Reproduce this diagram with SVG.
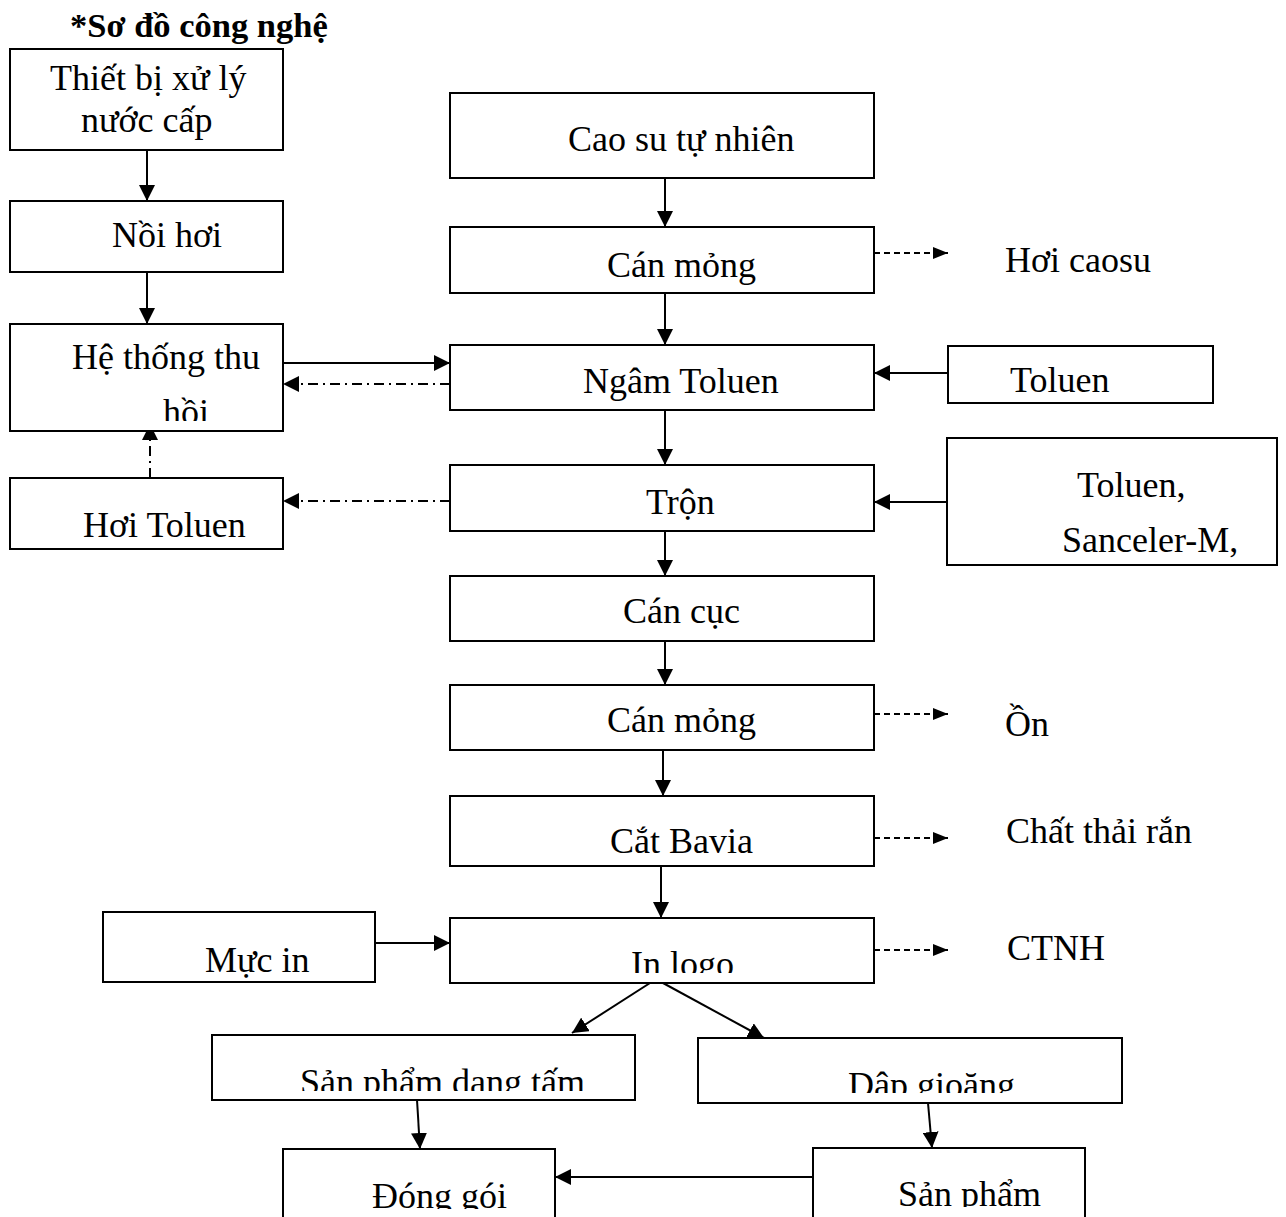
<svg xmlns="http://www.w3.org/2000/svg" width="1286" height="1217" viewBox="0 0 1286 1217">
  <style>
    text { font-family: "Liberation Serif", "Times New Roman", serif; font-size: 36px; fill: #000; }
    .title { font-size: 34.5px; font-weight: bold; }
    .box { fill: #fff; stroke: #000; stroke-width: 2; }
    .flow { fill: none; stroke: #000; stroke-width: 2; }
    .dash { stroke-dasharray: 6 4; }
    .dashdot { stroke-dasharray: 10 5 2 5; }
  </style>
  <defs>
    <marker id="arrow" markerUnits="userSpaceOnUse" markerWidth="17" markerHeight="16" refX="16" refY="8" orient="auto">
      <path d="M0,0 L16,8 L0,16 Z" fill="#000"/>
    </marker>
    <marker id="arrowSmall" markerUnits="userSpaceOnUse" markerWidth="16" markerHeight="12" refX="15" refY="6" orient="auto">
      <path d="M0,0 L15,6 L0,12 Z" fill="#000"/>
    </marker>
    <!-- text areas that cut off labels overflowing their boxes -->
    <clipPath id="clipRecovery"><rect x="10" y="323" width="273" height="98"/></clipPath>
    <clipPath id="clipLogo"><rect x="450" y="918" width="424" height="55"/></clipPath>
    <clipPath id="clipSheet"><rect x="212" y="1035" width="423" height="56"/></clipPath>
    <clipPath id="clipGasket"><rect x="698" y="1038" width="424" height="55"/></clipPath>
    <clipPath id="clipPack"><rect x="283" y="1149" width="272" height="60"/></clipPath>
    <clipPath id="clipProduct"><rect x="813" y="1148" width="272" height="59"/></clipPath>
  </defs>

  <text class="title" x="70" y="37">*Sơ đồ công nghệ</text>

  <!-- connectors -->
  <g id="connectors">
    <!-- left column -->
    <line class="flow" x1="147" y1="150" x2="147" y2="201" marker-end="url(#arrow)"/>
    <line class="flow" x1="147" y1="272" x2="147" y2="324" marker-end="url(#arrow)"/>
    <line class="flow" x1="283" y1="363" x2="450" y2="363" marker-end="url(#arrow)"/>
    <line class="flow dashdot" x1="450" y1="384" x2="283" y2="384" marker-end="url(#arrow)"/>
    <line class="flow dashdot" x1="450" y1="501" x2="283" y2="501" marker-end="url(#arrow)"/>
    <line class="flow dashdot" x1="150" y1="478" x2="150" y2="424" marker-end="url(#arrow)"/>

    <!-- main line -->
    <line class="flow" x1="665" y1="178" x2="665" y2="227" marker-end="url(#arrow)"/>
    <line class="flow" x1="665" y1="293" x2="665" y2="345" marker-end="url(#arrow)"/>
    <line class="flow" x1="665" y1="410" x2="665" y2="465" marker-end="url(#arrow)"/>
    <line class="flow" x1="665" y1="531" x2="665" y2="576" marker-end="url(#arrow)"/>
    <line class="flow" x1="665" y1="641" x2="665" y2="685" marker-end="url(#arrow)"/>
    <line class="flow" x1="663" y1="750" x2="663" y2="796" marker-end="url(#arrow)"/>
    <line class="flow" x1="661" y1="866" x2="661" y2="918" marker-end="url(#arrow)"/>

    <!-- inputs from the right -->
    <line class="flow" x1="948" y1="373" x2="874" y2="373" marker-end="url(#arrow)"/>
    <line class="flow" x1="947" y1="502" x2="874" y2="502" marker-end="url(#arrow)"/>
    <line class="flow" x1="375" y1="943" x2="450" y2="943" marker-end="url(#arrow)"/>

    <!-- emissions -->
    <line class="flow dash" x1="874" y1="253" x2="948" y2="253" marker-end="url(#arrowSmall)"/>
    <line class="flow dash" x1="874" y1="714" x2="948" y2="714" marker-end="url(#arrowSmall)"/>
    <line class="flow dash" x1="874" y1="838" x2="948" y2="838" marker-end="url(#arrowSmall)"/>
    <line class="flow dash" x1="874" y1="950" x2="948" y2="950" marker-end="url(#arrowSmall)"/>

    <!-- split after printing -->
    <line class="flow" x1="650" y1="983" x2="572" y2="1033" marker-end="url(#arrow)"/>
    <line class="flow" x1="663" y1="983" x2="764" y2="1038" marker-end="url(#arrow)"/>
    <line class="flow" x1="417" y1="1100" x2="420" y2="1149" marker-end="url(#arrow)"/>
    <line class="flow" x1="928" y1="1103" x2="932" y2="1148" marker-end="url(#arrow)"/>
    <line class="flow" x1="813" y1="1177" x2="555" y2="1177" marker-end="url(#arrow)"/>
  </g>

  <!-- left column -->
  <g id="water-treatment">
    <rect class="box" x="10" y="49" width="273" height="101"/>
    <text x="50" y="90">Thiết bị xử lý</text>
    <text x="81" y="132">nước cấp</text>
  </g>
  <g id="boiler">
    <rect class="box" x="10" y="201" width="273" height="71"/>
    <text x="112" y="247">Nồi hơi</text>
  </g>
  <g id="recovery">
    <rect class="box" x="10" y="324" width="273" height="107"/>
    <g clip-path="url(#clipRecovery)">
      <text x="72" y="369">Hệ thống thu</text>
      <text x="163" y="424">hồi</text>
    </g>
  </g>
  <g id="toluene-vapour">
    <rect class="box" x="10" y="478" width="273" height="71"/>
    <text x="83" y="537">Hơi Toluen</text>
  </g>

  <!-- main line -->
  <g id="natural-rubber">
    <rect class="box" x="450" y="93" width="424" height="85"/>
    <text x="568" y="151">Cao su tự nhiên</text>
  </g>
  <g id="sheeting-1">
    <rect class="box" x="450" y="227" width="424" height="66"/>
    <text x="607" y="277">Cán mỏng</text>
  </g>
  <g id="soaking">
    <rect class="box" x="450" y="345" width="424" height="65"/>
    <text x="583" y="393">Ngâm Toluen</text>
  </g>
  <g id="mixing">
    <rect class="box" x="450" y="465" width="424" height="66"/>
    <text x="646" y="514">Trộn</text>
  </g>
  <g id="lump-rolling">
    <rect class="box" x="450" y="576" width="424" height="65"/>
    <text x="623" y="623">Cán cục</text>
  </g>
  <g id="sheeting-2">
    <rect class="box" x="450" y="685" width="424" height="65"/>
    <text x="607" y="732">Cán mỏng</text>
  </g>
  <g id="deburring">
    <rect class="box" x="450" y="796" width="424" height="70"/>
    <text x="610" y="853">Cắt Bavia</text>
  </g>
  <g id="logo-printing">
    <rect class="box" x="450" y="918" width="424" height="65"/>
    <text x="631" y="976" clip-path="url(#clipLogo)">In logo</text>
  </g>

  <!-- inputs -->
  <g id="toluene">
    <rect class="box" x="948" y="346" width="265" height="57"/>
    <text x="1010" y="392">Toluen</text>
  </g>
  <g id="additives">
    <rect class="box" x="947" y="438" width="330" height="127"/>
    <text x="1077" y="497">Toluen,</text>
    <text x="1062" y="552">Sanceler-M,</text>
  </g>
  <g id="ink">
    <rect class="box" x="103" y="912" width="272" height="70"/>
    <text x="205" y="972">Mực in</text>
  </g>

  <!-- emissions -->
  <g id="rubber-vapour"><text x="1005" y="272">Hơi caosu</text></g>
  <g id="noise"><text x="1005" y="736">Ồn</text></g>
  <g id="solid-waste"><text x="1006" y="843">Chất thải rắn</text></g>
  <g id="hazardous-waste"><text x="1007" y="960">CTNH</text></g>

  <!-- finishing -->
  <g id="sheet-product">
    <rect class="box" x="212" y="1035" width="423" height="65"/>
    <text x="300" y="1094" clip-path="url(#clipSheet)">Sản phẩm dạng tấm</text>
  </g>
  <g id="gasket-stamping">
    <rect class="box" x="698" y="1038" width="424" height="65"/>
    <text x="848" y="1097" clip-path="url(#clipGasket)">Dập gioăng</text>
  </g>
  <g id="packing">
    <rect class="box" x="283" y="1149" width="272" height="90"/>
    <text x="372" y="1208" clip-path="url(#clipPack)">Đóng gói</text>
  </g>
  <g id="product">
    <rect class="box" x="813" y="1148" width="272" height="90"/>
    <text x="898" y="1206" clip-path="url(#clipProduct)">Sản phẩm</text>
  </g>
</svg>
